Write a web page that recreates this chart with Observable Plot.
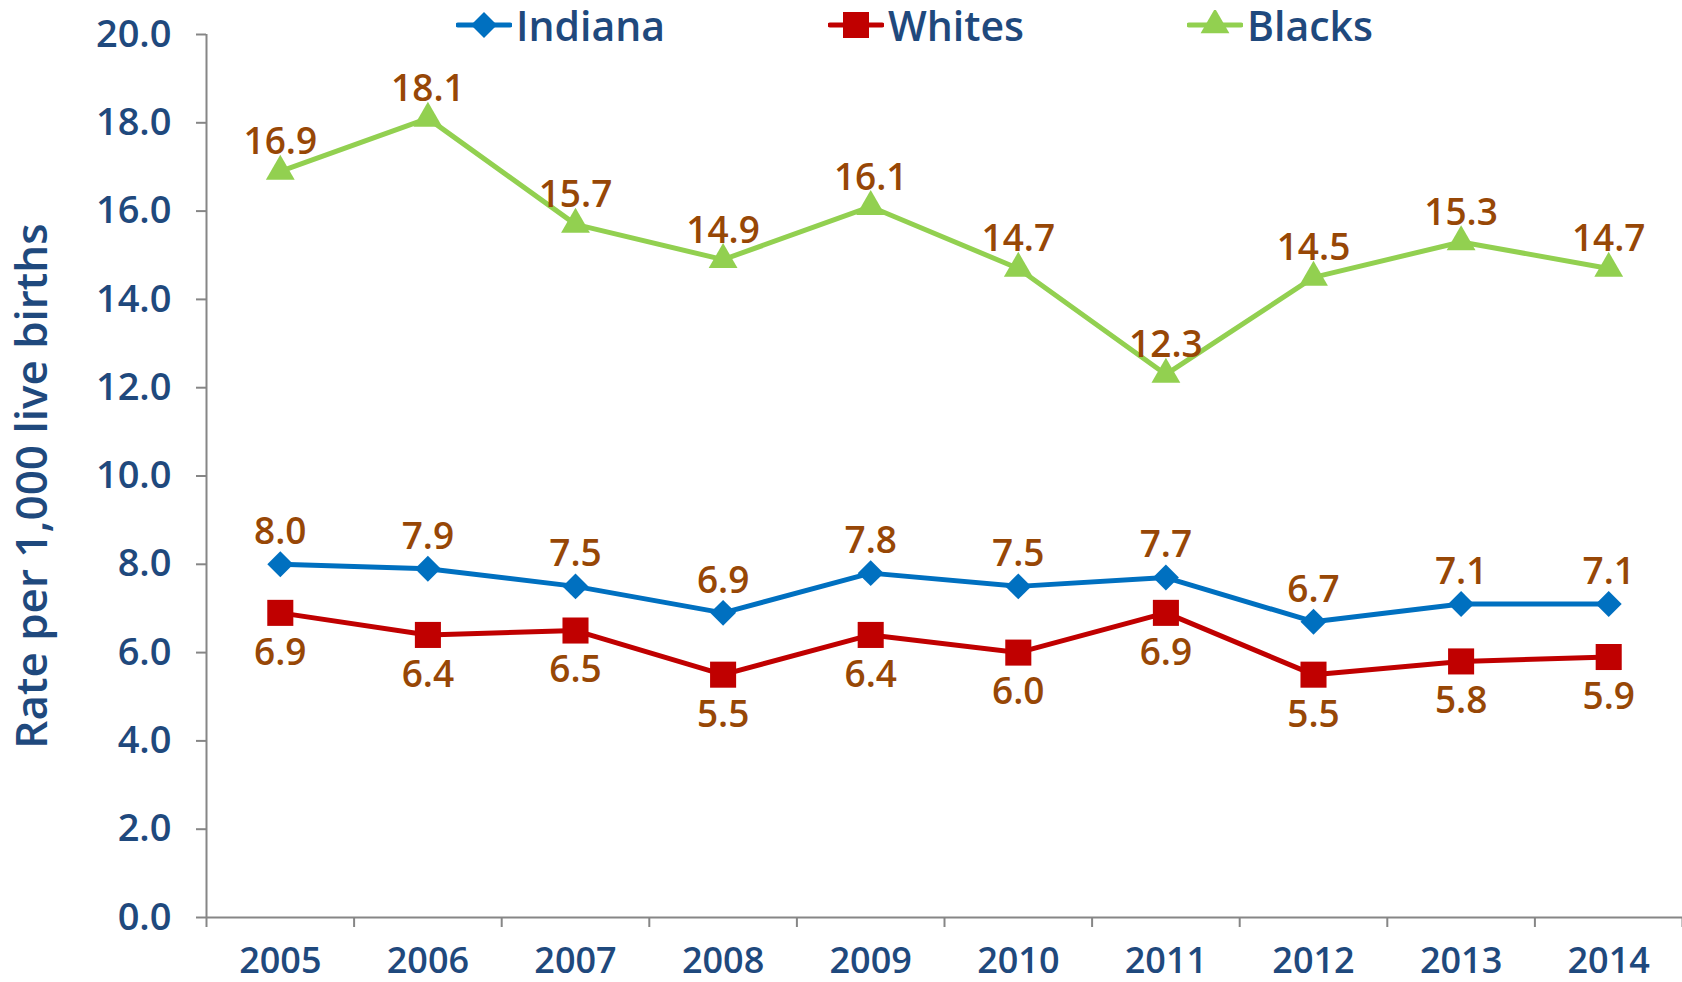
<!DOCTYPE html>
<html><head><meta charset="utf-8">
<script src="https://cdn.jsdelivr.net/npm/d3@7"></script>
<script src="https://cdn.jsdelivr.net/npm/@observablehq/plot@0.6"></script>
<style>
body{margin:0;background:#fff;}
#wrap{position:relative;width:1682px;height:982px;font-family:"Open Sans",sans-serif;}
.leg{position:absolute;top:2px;height:46px;display:flex;align-items:center;color:#1F497D;font-size:41px;font-weight:600;white-space:nowrap;}
.leg svg{margin-right:4px;}
</style></head><body><div id="wrap"></div>
<script>
const years = [2005, 2006, 2007, 2008, 2009, 2010, 2011, 2012, 2013, 2014];
const indiana = [8.0, 7.9, 7.5, 6.9, 7.8, 7.5, 7.7, 6.7, 7.1, 7.1];
const whites = [6.9, 6.4, 6.5, 5.5, 6.4, 6.0, 6.9, 5.5, 5.8, 5.9];
const blacks = [16.9, 18.1, 15.7, 14.9, 16.1, 14.7, 12.3, 14.5, 15.3, 14.7];
const yTicks = [0, 2, 4, 6, 8, 10, 12, 14, 16, 18, 20];
const seriesNames = ["Indiana", "Whites", "Blacks"];
const seriesColors = ["#0070C0", "#C00000", "#92D050"];
const seriesSymbols = ["diamond2", "square", "triangle"];
const yLabel = "Rate per 1,000 live births";

const seriesValues = [indiana, whites, blacks];
const rows = [];
seriesNames.forEach((s, k) => years.forEach((yr, i) => rows.push({year: yr, series: s, value: seriesValues[k][i]})));
const bounds = years.map(y => y - 0.5).concat([years[years.length - 1] + 0.5]);

const labelColor = "#974706";
const axisGray = "#868686";
const textBlue = "#1F497D";
const rSizes = {Indiana: 11.7, Whites: 14.7, Blacks: 10.7};
const labelDy = {Indiana: -32, Whites: 40, Blacks: -29};

const marks = [
  Plot.axisX({ticks: bounds, tickSize: 10, tickFormat: () => "", stroke: axisGray, strokeOpacity: 1, strokeWidth: 2, label: null}),
  Plot.axisX({ticks: years, tickSize: 0, tickPadding: 30, tickFormat: d => String(d), fontSize: 36, fontWeight: 600, fill: textBlue, label: null}),
  Plot.axisY({ticks: yTicks, tickSize: 10, tickPadding: 25, tickFormat: d => d.toFixed(1), fontSize: 38, fontWeight: 600, fill: textBlue, stroke: axisGray, strokeOpacity: 1, strokeWidth: 2, label: null}),
  Plot.ruleX([bounds[0]], {stroke: axisGray, strokeWidth: 2}),
  Plot.ruleY([0], {stroke: axisGray, strokeWidth: 2}),
  Plot.text([yLabel], {frameAnchor: "left", textAnchor: "middle", rotate: -90, dx: -174, dy: 10, fontSize: 44, fontWeight: 600, fill: textBlue}),
  Plot.line(rows, {x: "year", y: "value", z: "series", stroke: "series", strokeWidth: 5})
];
seriesNames.forEach(s => {
  const sub = rows.filter(d => d.series === s);
  marks.push(Plot.dot(sub, {x: "year", y: "value", symbol: "series", fill: "series", r: rSizes[s], stroke: "none"}));
  marks.push(Plot.text(sub, {x: "year", y: "value", text: d => d.value.toFixed(1), dy: labelDy[s], lineAnchor: "middle", fontSize: 37, fontWeight: 600, fill: labelColor}));
});

const plot = Plot.plot({
  width: 1682, height: 982,
  marginTop: 34, marginBottom: 65, marginLeft: 206, marginRight: 0,
  style: {fontFamily: '"Open Sans", sans-serif', background: "white", overflow: "visible"},
  x: {type: "linear", domain: [bounds[0], bounds[bounds.length - 1]]},
  y: {domain: [0, 20]},
  color: {domain: seriesNames, range: seriesColors},
  symbol: {domain: seriesNames, range: seriesSymbols},
  marks
});
const wrap = document.getElementById("wrap");
wrap.appendChild(plot);

// legend
const legLefts = [456, 828, 1187];
seriesNames.forEach((s, k) => {
  const div = document.createElement("div");
  div.className = "leg";
  div.style.left = legLefts[k] + "px";
  const ns = "http://www.w3.org/2000/svg";
  const svg = document.createElementNS(ns, "svg");
  svg.setAttribute("width", 56); svg.setAttribute("height", 30);
  const ln = document.createElementNS(ns, "line");
  ln.setAttribute("x1", 2); ln.setAttribute("x2", 54); ln.setAttribute("y1", 15); ln.setAttribute("y2", 15);
  ln.setAttribute("stroke", seriesColors[k]); ln.setAttribute("stroke-width", 5); ln.setAttribute("stroke-linecap", "round");
  svg.appendChild(ln);
  const sym = {diamond2: d3.symbolDiamond2, square: d3.symbolSquare, triangle: d3.symbolTriangle}[seriesSymbols[k]];
  const p = document.createElementNS(ns, "path");
  p.setAttribute("d", d3.symbol(sym, Math.PI * rSizes[s] * rSizes[s])());
  p.setAttribute("transform", "translate(28,15)");
  p.setAttribute("fill", seriesColors[k]);
  svg.appendChild(p);
  div.appendChild(svg);
  const t = document.createElement("span");
  t.textContent = s;
  div.appendChild(t);
  wrap.appendChild(div);
});
</script></body></html>
